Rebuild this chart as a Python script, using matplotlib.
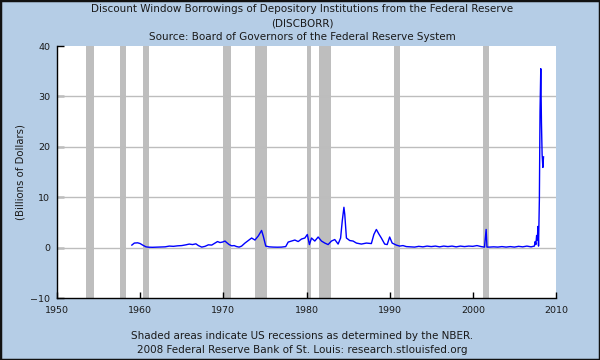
import matplotlib
matplotlib.use("Agg")
import matplotlib.pyplot as plt
from matplotlib.patches import Rectangle

# ---- data ----
dates = [1959.0, 1959.3, 1959.7, 1960.0, 1960.3, 1960.7, 1961.0, 1961.5, 1962.0, 1962.5,
         1963.0, 1963.5, 1964.0, 1964.5, 1965.0, 1965.5, 1965.9, 1966.3, 1966.7, 1967.0,
         1967.4, 1967.8, 1968.2, 1968.6, 1969.0, 1969.3, 1969.6, 1969.9, 1970.2, 1970.4,
         1970.7, 1971.0, 1971.3, 1971.6, 1971.9, 1972.2, 1972.6, 1973.0, 1973.4, 1973.8,
         1974.2, 1974.6, 1974.8, 1975.1, 1975.5, 1976.0, 1976.5, 1977.0, 1977.5, 1977.8,
         1978.2, 1978.6, 1979.0, 1979.4, 1979.8, 1980.1, 1980.35, 1980.6, 1981.0, 1981.4,
         1981.8, 1982.2, 1982.6, 1983.0, 1983.4, 1983.8, 1984.1, 1984.3, 1984.5, 1984.6,
         1984.8, 1985.2, 1985.6, 1986.0, 1986.6, 1987.2, 1987.8, 1988.1, 1988.4, 1988.7,
         1989.0, 1989.4, 1989.7, 1990.0, 1990.3, 1990.8, 1991.2, 1991.6, 1992.0, 1992.5,
         1993.0, 1993.5, 1994.0, 1994.5, 1995.0, 1995.5, 1996.0, 1996.5, 1997.0, 1997.5,
         1998.0, 1998.5, 1999.0, 1999.5, 2000.0, 2000.5, 2001.0, 2001.4, 2001.6, 2001.7,
         2002.0, 2002.5, 2003.0, 2003.5, 2004.0, 2004.5, 2005.0, 2005.5, 2006.0, 2006.5,
         2007.0, 2007.4, 2007.5, 2007.58, 2007.67, 2007.75, 2007.83, 2007.9, 2008.0, 2008.08,
         2008.17, 2008.25, 2008.33, 2008.42, 2008.5]
values = [0.5, 0.9, 0.95, 0.8, 0.5, 0.15, 0.08, 0.06, 0.1, 0.12,
          0.15, 0.3, 0.25, 0.35, 0.4, 0.55, 0.7, 0.6, 0.75, 0.4,
          0.1, 0.25, 0.55, 0.5, 0.9, 1.2, 1.0, 1.1, 1.3, 1.0,
          0.6, 0.35, 0.4, 0.2, 0.1, 0.3, 0.9, 1.4, 1.9, 1.5,
          2.3, 3.4, 2.3, 0.3, 0.15, 0.1, 0.08, 0.1, 0.2, 1.1,
          1.3, 1.5, 1.2, 1.7, 1.9, 2.6, 0.6, 1.9, 1.3, 2.1,
          1.3, 0.9, 0.6, 1.3, 1.6, 0.7, 1.9, 5.3, 8.0, 6.6,
          1.9, 1.4, 1.3, 0.9, 0.7, 0.9, 0.8, 2.6, 3.6, 2.7,
          1.9, 0.7, 0.6, 2.1, 0.9, 0.5, 0.3, 0.4, 0.2, 0.15,
          0.1, 0.25, 0.15, 0.3, 0.2, 0.3, 0.15, 0.3, 0.2, 0.3,
          0.15, 0.3, 0.2, 0.3, 0.25, 0.4, 0.2, 0.1, 3.6, 0.1,
          0.1, 0.15, 0.1, 0.2, 0.1, 0.2, 0.1, 0.25, 0.15, 0.3,
          0.15, 0.3, 1.2, 0.6, 2.4, 1.5, 4.2, 0.3, 9.5, 27.0,
          35.5, 24.8, 18.5, 15.9, 18.0]

recession_start = [1953.5, 1957.6, 1960.3, 1969.9, 1973.85, 1980.0, 1981.5, 1990.5, 2001.2]
recession_end = [1954.4, 1958.3, 1961.1, 1970.9, 1975.2, 1980.5, 1982.9, 1991.2, 2001.9]

x_ticks = [1950, 1960, 1970, 1980, 1990, 2000, 2010]
y_ticks = [-10, 0, 10, 20, 30, 40]

title_lines = ["Discount Window Borrowings of Depository Institutions from the Federal Reserve",
               "(DISCBORR)",
               "Source: Board of Governors of the Federal Reserve System"]
footer_lines = ["Shaded areas indicate US recessions as determined by the NBER.",
                "2008 Federal Reserve Bank of St. Louis: research.stlouisfed.org"]
y_label = "(Billions of Dollars)"

# ---- figure ----
bg = "#B5CDE6"
txt = "#1a1a1a"
fig = plt.figure(figsize=(6, 3.6), dpi=100, facecolor=bg)
fig.patches.append(Rectangle((0, 0), 1, 1, transform=fig.transFigure, fill=False,
                             edgecolor="#111111", linewidth=2.5, zorder=10))

ax = fig.add_axes([57 / 600, 1 - 298 / 360, (556 - 57) / 600, (298 - 46) / 360])
ax.set_facecolor("white")
ax.set_xlim(1950, 2010)
ax.set_ylim(-10, 40)

for s, e in zip(recession_start, recession_end):
    ax.axvspan(s, e, color="#BEBEBE", lw=0, zorder=1)

for yv in y_ticks[1:-1]:
    ax.axhline(yv, color="#BDBDBD", lw=1.0, zorder=2)

ax.plot(dates, values, color="#0000FF", lw=1.0, zorder=3)

ax.set_xticks(x_ticks)
ax.set_yticks(y_ticks)
ax.tick_params(axis="both", direction="in", length=4, width=1, colors="black",
               labelsize=6.8, labelcolor=txt)
ax.tick_params(axis="y", length=5, pad=5)
ax.tick_params(axis="x", pad=6)
for sp in ["top", "right"]:
    ax.spines[sp].set_visible(False)
for sp in ["left", "bottom"]:
    ax.spines[sp].set_color("black")
    ax.spines[sp].set_linewidth(1)

ax.set_ylabel(y_label, fontsize=7.3, color=txt, va="center")
ax.yaxis.set_label_coords((21 - 57) / 499, 0.5)

ty = [9, 23, 37]
for line, y in zip(title_lines, ty):
    fig.text(302 / 600, 1 - y / 360, line, ha="center", va="center", fontsize=7.5, color=txt)
fy = [336, 350]
for line, y in zip(footer_lines, fy):
    fig.text(302 / 600, 1 - y / 360, line, ha="center", va="center", fontsize=7.5, color=txt)

fig.savefig("out.png", dpi=100, facecolor=bg)
